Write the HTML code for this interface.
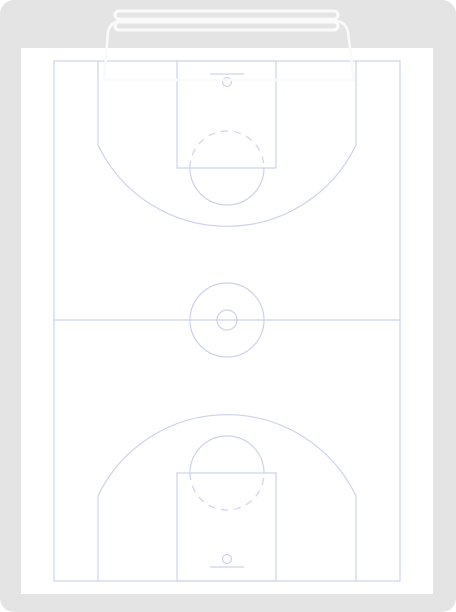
<!DOCTYPE html>
<html><head><meta charset="utf-8"><style>
html,body{margin:0;padding:0;background:#fff}
svg{display:block}
</style></head><body>
<svg width="456" height="612" viewBox="0 0 456 612">
<rect x="0" y="0" width="456" height="612" rx="14" fill="#e4e4e4"/>
<rect x="21" y="48" width="412" height="546" fill="#fff"/>
<g fill="none" stroke="#cdd2ea" stroke-width="1.2">
<rect x="54" y="61" width="346" height="520"/>
<line x1="54" y1="320" x2="400" y2="320"/>
<circle cx="227" cy="320" r="37"/>
<circle cx="227" cy="320" r="10"/>
<rect x="177" y="61" width="99" height="107"/>
<path d="M190 168 A37 37 0 0 0 264 168"/>
<path d="M190 168 A37 37 0 0 1 264 168" stroke-dasharray="7 6"/>
<path d="M98 61 V145 A143 143 0 0 0 356 145 V61"/>
<line x1="210" y1="74" x2="244" y2="74"/>
<circle cx="227" cy="82" r="4.5"/>
<rect x="177" y="473" width="99" height="108"/>
<path d="M190 473 A37 37 0 0 1 264 473"/>
<path d="M190 473 A37 37 0 0 0 264 473" stroke-dasharray="7 6"/>
<path d="M98 581 V496 A143 143 0 0 1 356 496 V581"/>
<line x1="210" y1="567" x2="244" y2="567"/>
<circle cx="227" cy="559" r="4.5"/>
</g>
<g fill="none" stroke="#fafafa" stroke-width="3">
<rect x="115" y="11" width="223" height="8" rx="4"/>
<rect x="115" y="22" width="223" height="8" rx="4"/>
<path d="M104 80 L108 32 Q110 22 120 21 L336 21 Q346 22 348 32 L354 80 Z" stroke-width="2.5"/>
</g>
</svg>
</body></html>
